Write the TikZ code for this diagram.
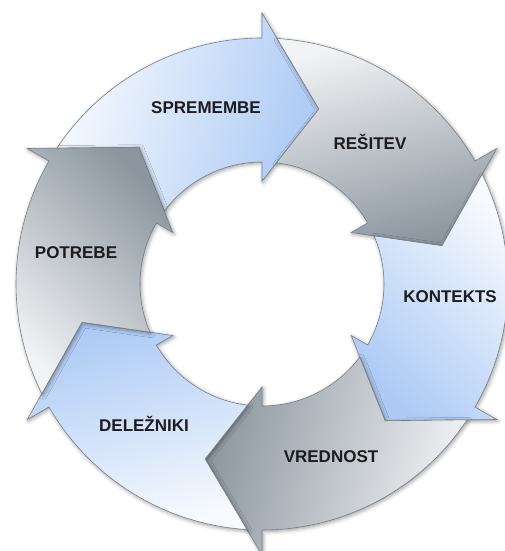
\documentclass[tikz,border=0pt]{standalone}
\usepackage{fontspec}
\setmainfont{Liberation Sans}
\usetikzlibrary{shadows.blur}
\definecolor{bluehead}{RGB}{172,202,245}
\definecolor{bluetail}{RGB}{247,250,254}
\definecolor{greyhead}{RGB}{140,150,159}
\definecolor{greytail}{RGB}{242,243,245}
\definecolor{outline}{RGB}{118,126,134}
\definecolor{labeltext}{RGB}{28,28,30}
\tikzset{
  arrowshape/.style={draw=outline, line width=0.6pt,
    blur shadow={shadow xshift=1.2pt, shadow yshift=-1.5pt, shadow blur radius=4pt, shadow opacity=40}},
  lbl/.style={anchor=base, inner sep=0pt, text=labeltext, font=\fontsize{17}{20}\selectfont\bfseries}
}
\begin{document}
\begin{tikzpicture}
\useasboundingbox (0,0) rectangle (504pt,551pt);
\begin{scope}[shift={(262pt,267pt)}]
\foreach \a/\hc/\tc in {150/bluehead/bluetail,90/greyhead/greytail,30/bluehead/bluetail,-30/greyhead/greytail,-90/bluehead/bluetail,-150/greyhead/greytail}{
  \pgfmathsetmacro{\bb}{\a-60}
  \pgfmathsetmacro{\sa}{\a-255}
  \path[arrowshape, top color=\hc, bottom color=\tc, shading angle=\sa]
    ({\a-3.51}:246pt) arc[start angle={\a-3.51}, end angle=\bb, radius=246pt]
    -- (\bb:271pt) -- ({\bb-18}:184pt) -- (\bb:103pt) -- (\bb:122pt)
    arc[start angle=\bb, end angle={\a-6.75}, radius=122pt]
    -- ({\a-18}:184pt) -- cycle;
}
\end{scope}
\node[lbl] (spr) at (206pt,437pt) {SPREMEMBE};
\node[lbl] (res) at (370pt,401pt) {REŠITEV};
\node[lbl] (kon) at (450pt,248pt) {KONTEKTS};
\node[lbl] (vre) at (331pt,88pt) {VREDNOST};
\node[lbl] (del) at (144pt,119pt) {DELEŽNIKI};
\node[lbl] (pot) at (76pt,292pt) {POTREBE};
\end{tikzpicture}
\end{document}
